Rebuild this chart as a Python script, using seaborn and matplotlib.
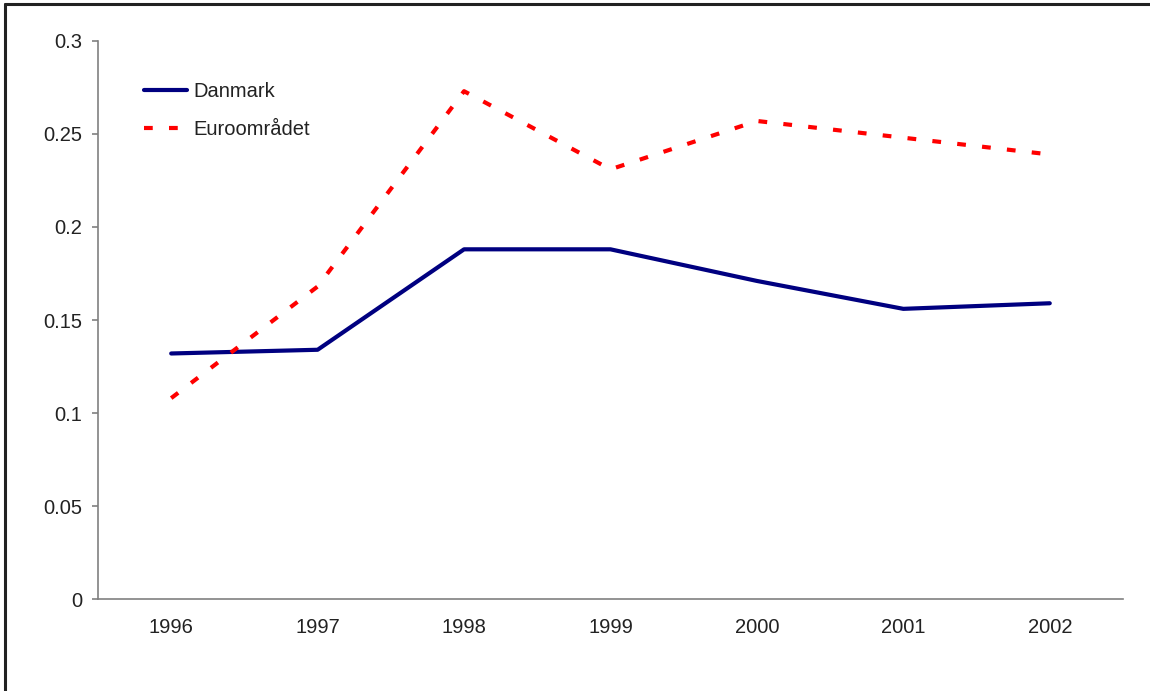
import matplotlib.pyplot as plt
import pandas as pd
import seaborn as sns
from matplotlib.lines import Line2D

years = ["1996", "1997", "1998", "1999", "2000", "2001", "2002"]
danmark = [0.132, 0.134, 0.188, 0.188, 0.171, 0.156, 0.159]
euroomraadet = [0.108, 0.168, 0.273, 0.231, 0.257, 0.248, 0.239]
series_names = ["Danmark", "Euroområdet"]
y_ticks = [0, 0.05, 0.1, 0.15, 0.2, 0.25, 0.3]
y_tick_labels = ["0", "0.05", "0.1", "0.15", "0.2", "0.25", "0.3"]


def main():
    sns.set_style("white")
    plt.rcParams["font.family"] = ["Liberation Sans", "DejaVu Sans"]

    df = pd.DataFrame(
        {
            "year": years * 2,
            "value": danmark + euroomraadet,
            "series": [series_names[0]] * len(years) + [series_names[1]] * len(years),
        }
    )

    fig = plt.figure(figsize=(11.5, 6.91), dpi=100)
    ax = fig.add_axes([0.0852, 0.1331, 0.8913, 0.8076])

    sns.lineplot(
        data=df,
        x="year",
        y="value",
        hue="series",
        style="series",
        palette={"Danmark": "#000080", "Euroområdet": "#ff0000"},
        dashes={"Danmark": "", "Euroområdet": (2.1, 3.9)},
        linewidth=3.0,
        sort=False,
        ax=ax,
    )

    ax.set_xlim(-0.5, len(years) - 0.5)
    ax.set_ylim(0, 0.3)
    ax.set_xlabel("")
    ax.set_ylabel("")

    axis_color = "#808080"
    ax.spines[["top", "right"]].set_visible(False)
    ax.spines[["left", "bottom"]].set_color(axis_color)
    ax.spines[["left", "bottom"]].set_linewidth(1.2)

    ax.set_yticks(y_ticks)
    ax.set_yticklabels(y_tick_labels)
    ax.set_xticks(range(len(years)))
    ax.set_xticklabels(years)
    ax.set_xticks([i - 0.5 for i in range(len(years) + 1)], minor=True)
    ax.tick_params(axis="x", which="major", length=0, pad=14, labelsize=14.5, labelcolor="#222222")
    ax.tick_params(axis="x", which="minor", length=5, width=1.2, color="#333333", direction="out")
    ax.tick_params(axis="y", length=4.5, width=1.2, color=axis_color, direction="out",
                   left=True, pad=7, labelsize=14.5, labelcolor="#222222")
    ax.grid(False)

    handles, labels = ax.get_legend_handles_labels()
    ax.legend(
        handles,
        labels,
        loc="upper left",
        bbox_to_anchor=(0.035, 0.945),
        frameon=False,
        fontsize=14.5,
        handlelength=2.15,
        handletextpad=0.3,
        labelspacing=0.95,
        borderpad=0,
        labelcolor="#222222",
    )

    # outer frame like the original chart box
    fig.add_artist(Line2D([0.0045, 1.0], [0.9935, 0.9935], color="#222222", linewidth=2.2,
                          transform=fig.transFigure))
    fig.add_artist(Line2D([0.0045, 0.0045], [0.0, 0.9935], color="#222222", linewidth=2.2,
                          transform=fig.transFigure))

    fig.savefig("out.png", dpi=100, facecolor="white")
    plt.close(fig)


if __name__ == "__main__":
    main()
